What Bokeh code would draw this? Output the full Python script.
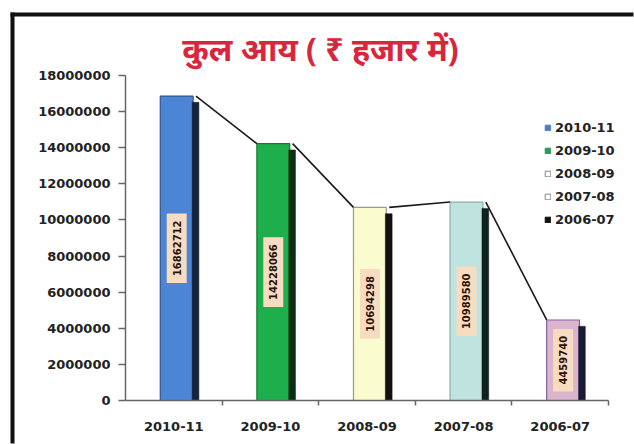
import numpy as np
from bokeh.plotting import figure
from bokeh.models import (Range1d, FixedTicker, BasicTickFormatter, Legend, LegendItem,
                          ColumnDataSource)
from bokeh.embed import file_html
from bokeh.resources import INLINE
from bokeh.core.properties import value

# ---- data ----
categories = ["2010-11", "2009-10", "2008-09", "2007-08", "2006-07"]
values = [16862712, 14228066, 10694298, 10989580, 4459740]
label_texts = ["16862712", "14228066", "10694298", "10989580", "4459740"]
face_colors = ["#4d85d6", "#1fae4c", "#fafbcf", "#bfe3df", "#dcb4cc"]
edge_colors = ["#2c5591", "#137a34", "#9a9a88", "#8ab0ac", "#7a64a4"]
side_colors = ["#15243c", "#0a2e14", "#111111", "#102220", "#1a1a38"]
legend_labels = ["2010-11", "2009-10", "2008-09", "2007-08", "2006-07"]
legend_colors = ["#4d7fc4", "#2e9a5a", "#ffffff", "#ffffff", "#111111"]
legend_edges = ["#4d7fc4", "#2e9a5a", "#888888", "#888888", "#111111"]
title_text = "कुल आय ( ₹ हजार में)"
y_max = 18000000
y_step = 2000000

TICK_FONT = "DejaVu Sans"
W, H = 634, 444
# pixel layout of the plotting area inside the canvas
AX_L, AX_R, AX_T, AX_B = 125, 608, 75, 400
n = len(categories)
ux = (AX_R - AX_L) / n          # px per category
uy = y_max / (AX_B - AX_T)      # data per px


def dx(px):
    return (px - AX_L) / ux


def dy(py):
    return (AX_B - py) * uy


x_range = Range1d(dx(0), dx(W))
y_range = Range1d(dy(H), dy(0))

p = figure(width=W, height=H, output_backend="svg", toolbar_location=None,
           x_range=x_range, y_range=y_range, min_border=0,
           background_fill_color="white", border_fill_color="white")
p.outline_line_color = None
p.xgrid.grid_line_color = None
p.ygrid.grid_line_color = None

# outer black frame: only left and top edges are visible
p.quad(left=[dx(10), dx(10)], right=[dx(14), dx(W - 1)],
       top=[dy(12), dy(12)], bottom=[dy(H - 1), dy(16)],
       fill_color="#111111", line_color=None)

idx = np.arange(n)
L, R = 0.36, 0.76
src = ColumnDataSource(dict(
    left=idx + L, right=idx + R - 0.06, top=values, bottom=[0] * n,
    sleft=idx + R - 0.07, sright=idx + R, stop=[v - 350000 for v in values],
    fc=face_colors, ec=edge_colors, sc=side_colors,
    cx=idx + (L + R - 0.06) / 2, cy=[v / 2 for v in values], lab=label_texts,
))

# front faces
p.quad(left="left", right="right", top="top", bottom="bottom", source=src,
       fill_color="fc", line_color="ec", line_width=1.2)
# dark side strips
p.quad(left="sleft", right="sright", top="stop", bottom="bottom", source=src,
       fill_color="sc", line_color="sc", line_width=0.5)

# connecting line: top-right of bar i -> top-left of bar i+1
x0 = list(idx[:-1] + R - 0.03)
x1 = list(idx[1:] + L)
p.segment(x0=x0, y0=values[:-1], x1=x1, y1=values[1:], line_color="#1a1a1a", line_width=1.6)

# value labels
p.text(x="cx", y="cy", text="lab", source=src, angle=np.pi / 2,
       text_align="center", text_baseline="middle",
       text_font=value(TICK_FONT), text_font_size="10px", text_font_style="bold",
       text_color="#2a1208", background_fill_color="#f8dcc2", padding=(7, 6))

# axes (drawn inside the frame at fixed locations)
p.yaxis.fixed_location = 0
p.yaxis.bounds = (0, y_max)
p.yaxis.ticker = FixedTicker(ticks=list(range(0, y_max + 1, y_step)))
p.yaxis.formatter = BasicTickFormatter(use_scientific=False)
p.yaxis.axis_line_color = "#666666"
p.yaxis.axis_line_width = 1.5
p.yaxis.major_tick_line_color = "#666666"
p.yaxis.major_tick_line_width = 1.5
p.yaxis.major_tick_out = 7
p.yaxis.major_tick_in = 0
p.yaxis.minor_tick_line_color = None
p.yaxis.major_label_standoff = 8
p.yaxis.major_label_text_font = TICK_FONT
p.yaxis.major_label_text_font_style = "bold"
p.yaxis.major_label_text_font_size = "13px"
p.yaxis.major_label_text_color = "#222222"

centers = [i + 0.5 for i in range(n)]
p.xaxis.fixed_location = 0
p.xaxis.bounds = (0, n)
p.xaxis.ticker = FixedTicker(ticks=centers, minor_ticks=list(range(1, n + 1)))
p.xaxis.major_label_overrides = {c: cat for c, cat in zip(centers, categories)}
p.xaxis.axis_line_color = "#666666"
p.xaxis.axis_line_width = 1.5
p.xaxis.major_tick_line_color = None
p.xaxis.major_tick_out = 0
p.xaxis.major_tick_in = 0
p.xaxis.minor_tick_line_color = "#666666"
p.xaxis.minor_tick_line_width = 1.5
p.xaxis.minor_tick_out = 5
p.xaxis.minor_tick_in = 0
p.xaxis.major_label_standoff = 16
p.xaxis.major_label_text_font = TICK_FONT
p.xaxis.major_label_text_font_style = "bold"
p.xaxis.major_label_text_font_size = "13px"
p.xaxis.major_label_text_color = "#222222"

# legend with dummy square renderers (placed outside the visible range)
items = []
for lab, c, e in zip(legend_labels, legend_colors, legend_edges):
    r = p.quad(left=[x_range.start - 2], right=[x_range.start - 1], top=[1], bottom=[0],
               fill_color=c, line_color=e)
    items.append(LegendItem(label=lab, renderers=[r]))
legend = Legend(items=items, location=(544, H - 229), glyph_width=7, glyph_height=7,
                label_standoff=4, spacing=3, label_height=20, padding=0, margin=0,
                background_fill_alpha=0, border_line_color=None,
                label_text_font=TICK_FONT, label_text_font_style="bold",
                label_text_font_size="13px", label_text_color="#222222")
p.add_layout(legend)

# title as text in data space
p.text(x=[dx(320)], y=[dy(48)], text=[title_text],
       text_align="center", text_baseline="middle",
       text_font=value("Noto Sans"), text_font_size="32px", text_font_style="bold",
       text_color="#d8263c")

open("out.html", "w").write(file_html(p, INLINE))
